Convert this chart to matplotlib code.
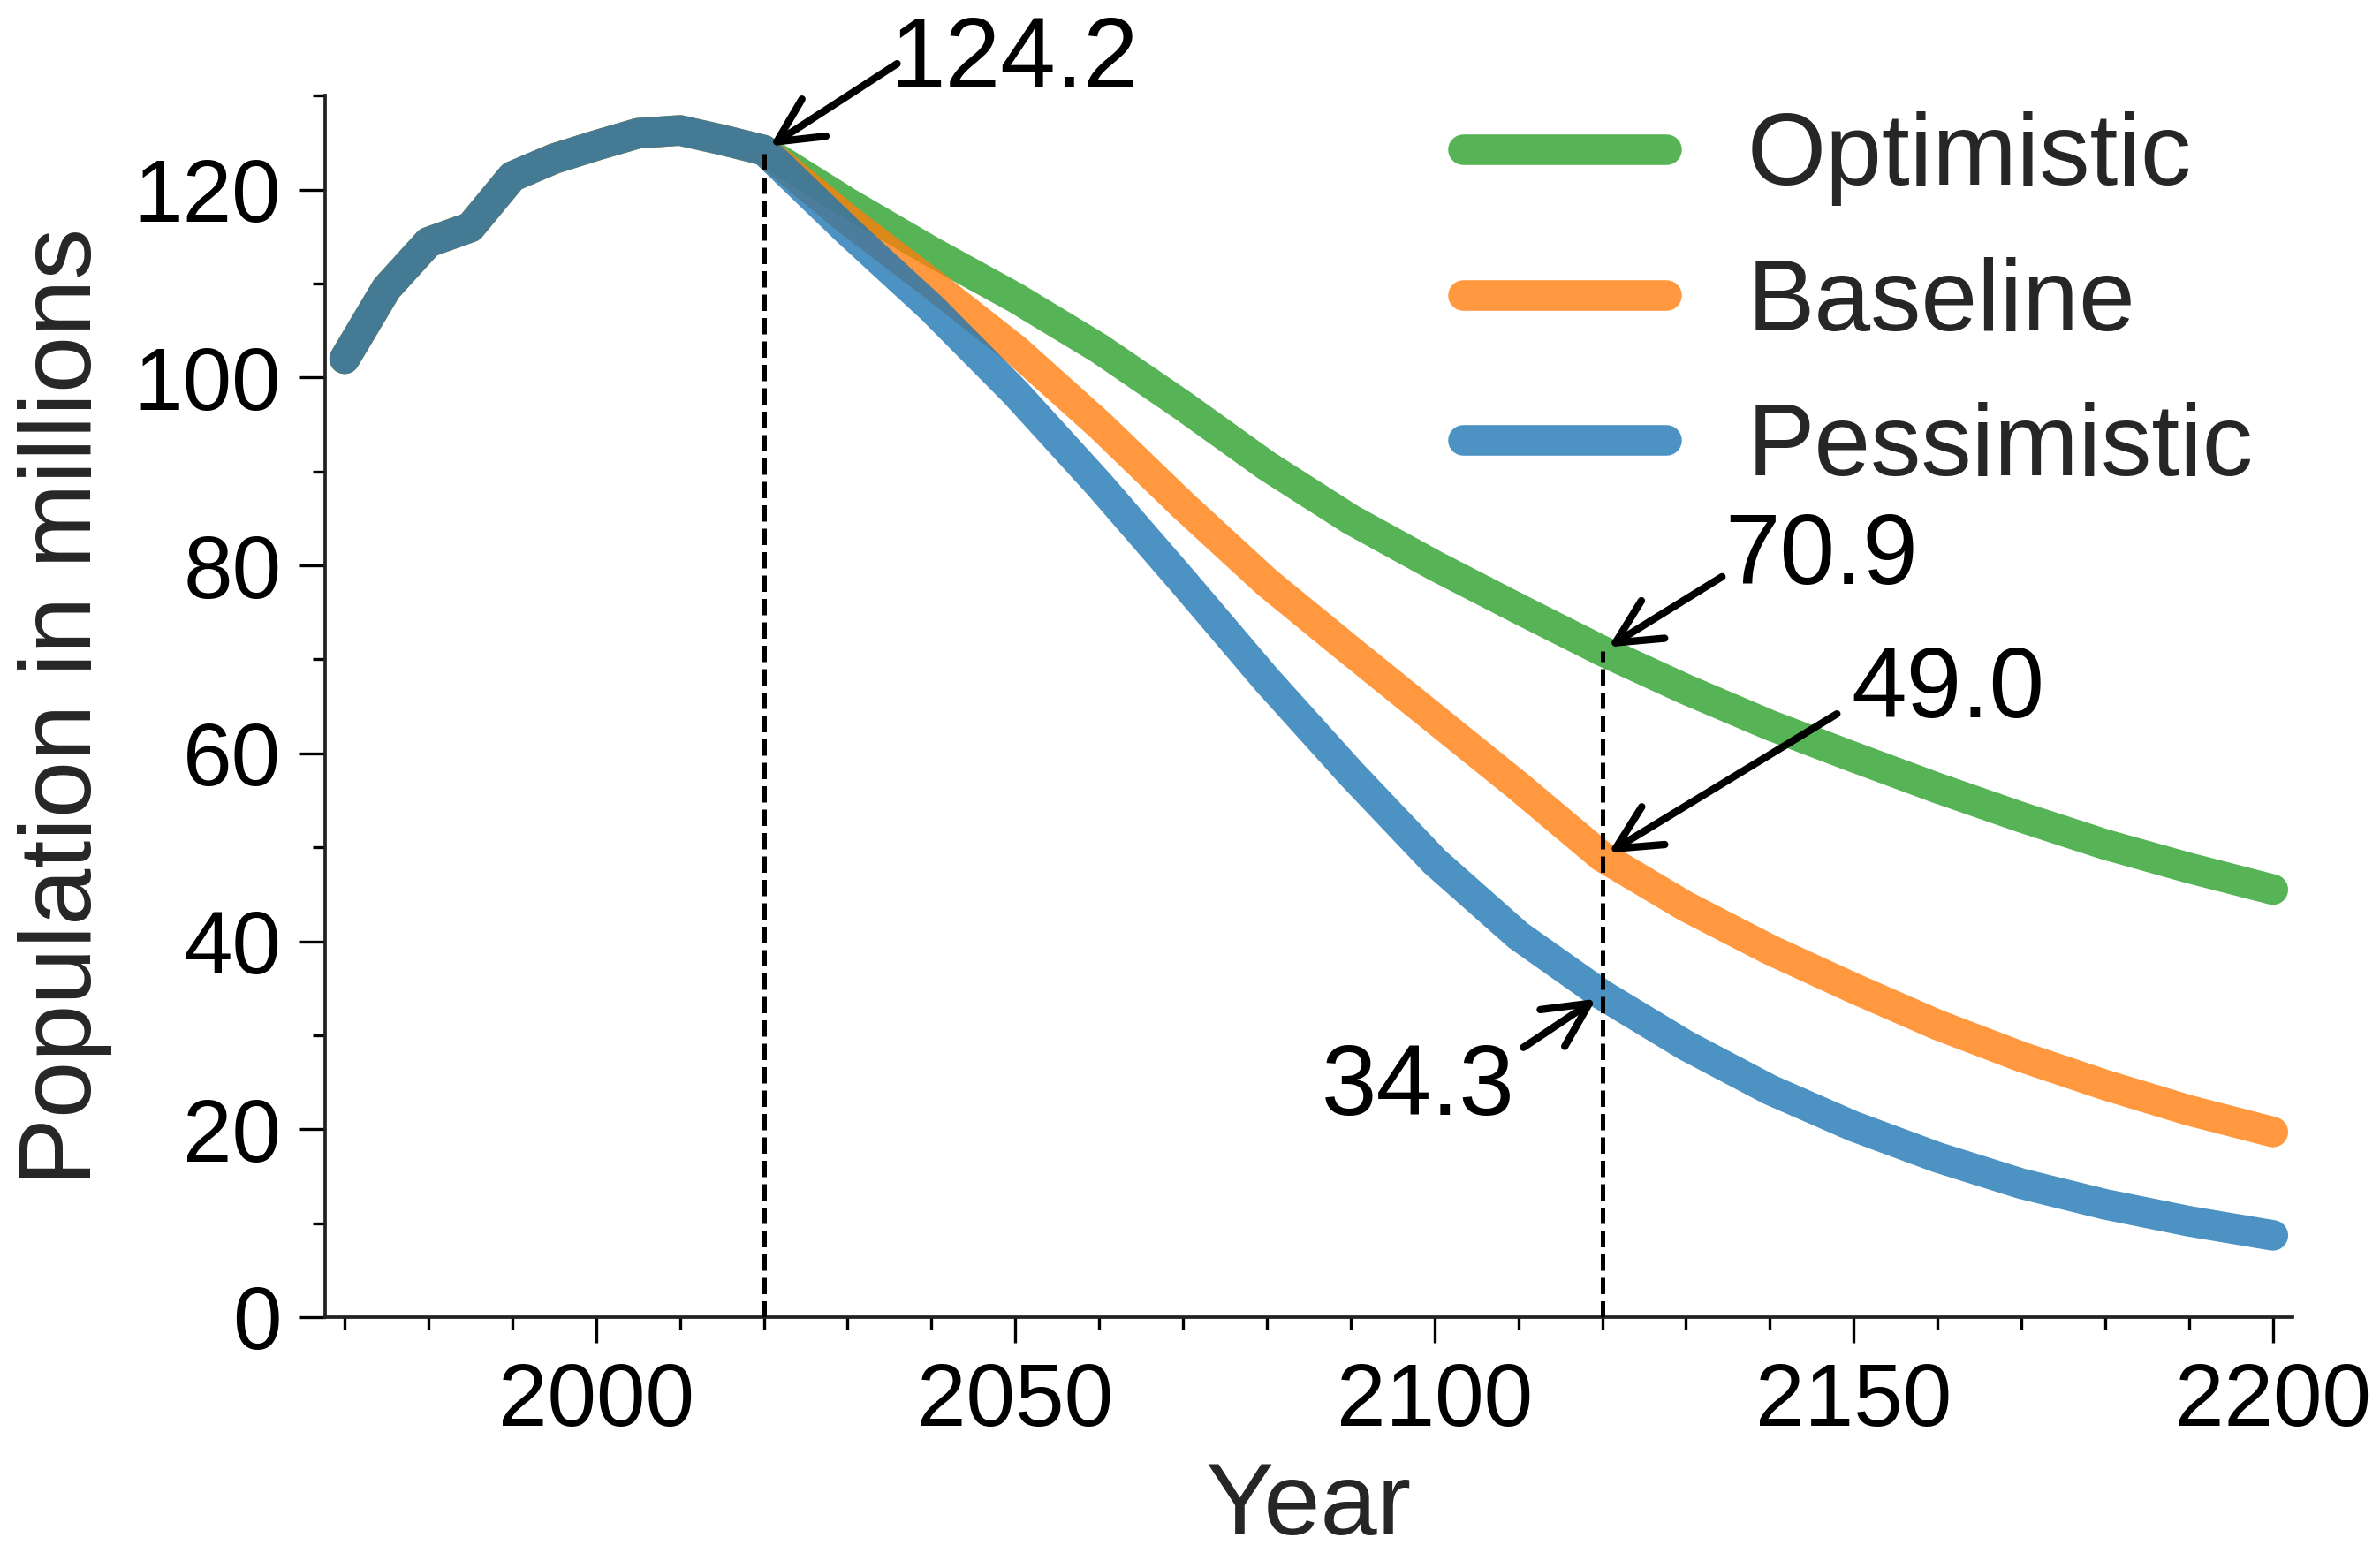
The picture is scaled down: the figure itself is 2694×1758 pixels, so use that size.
import matplotlib
matplotlib.use("Agg")
import matplotlib.pyplot as plt
from matplotlib.ticker import MultipleLocator

# ---------------- data ----------------
hist_years = [1970, 1975, 1980, 1985, 1990, 1995, 2000, 2005, 2010, 2015, 2020]
hist_pop = [102.0, 109.5, 114.4, 116.0, 121.4, 123.3, 124.7, 126.0, 126.3, 125.3, 124.2]

proj_years = [2020, 2030, 2040, 2050, 2060, 2070, 2080, 2090, 2100, 2110,
              2120, 2130, 2140, 2150, 2160, 2170, 2180, 2190, 2200]
optimistic = [124.2, 118.6, 113.4, 108.5, 103.1, 97.0, 90.6, 84.9, 80.0, 75.4,
              70.9, 66.8, 63.0, 59.6, 56.3, 53.2, 50.3, 47.8, 45.5]
baseline = [124.2, 116.8, 110.0, 103.0, 95.0, 86.4, 78.2, 70.9, 63.7, 56.5,
            49.0, 43.7, 39.1, 35.0, 31.1, 27.7, 24.7, 22.0, 19.7]
pessimistic = [124.2, 115.6, 107.4, 98.4, 88.6, 78.3, 67.8, 57.9, 48.5, 40.6,
               34.3, 28.9, 24.2, 20.3, 17.0, 14.2, 12.0, 10.2, 8.7]

scenario_names = ["Optimistic", "Baseline", "Pessimistic"]
scenario_colors = ["tab:green", "tab:orange", "tab:blue"]

ann_years = [2020, 2120, 2120, 2120]
ann_values = [124.2, 70.9, 49.0, 34.3]
# text anchor (left, baseline) and arrow tail positions in data coords
ann_text_pos = [(2035.0, 130.9), (2134.6, 78.0), (2149.7, 63.85), (2086.5, 21.5)]
ann_tail_pos = [(2035.9, 133.4), (2134.3, 78.8), (2148.0, 64.2), (2110.6, 28.7)]
vline_years = [2020, 2120]
vline_tops = [124.2, 70.9]

# ---------------- style ----------------
plt.rcParams["font.family"] = ["Liberation Sans", "DejaVu Sans"]
label_color = "#262626"

fig = plt.figure(figsize=(2694 / 300, 1758 / 300), dpi=300)
ax = fig.add_axes([0.1367, 0.1519, 0.8264, 0.7865])

for name, vals, col in zip(scenario_names,
                           [optimistic, baseline, pessimistic],
                           scenario_colors):
    ax.plot(hist_years + proj_years[1:], hist_pop + vals[1:],
            color=col, alpha=0.8, lw=8.3, solid_capstyle="round",
            label=name, zorder=2)

for yr, top in zip(vline_years, vline_tops):
    ax.plot([yr, yr], [0, top], color="black", ls="--", lw=1.2, zorder=3)

for yr, val, tpos, tail in zip(ann_years, ann_values, ann_text_pos, ann_tail_pos):
    ax.text(tpos[0], tpos[1], f"{val:.1f}", fontsize=27, color="black",
            ha="left", va="baseline", zorder=5)
    ax.annotate("", xy=(yr, val), xytext=tail,
                arrowprops=dict(arrowstyle="->", lw=2.0, color="black",
                                shrinkA=0, shrinkB=2, mutation_scale=30),
                zorder=5)

ax.set_xlim(1967.7, 2202.3)
ax.set_ylim(0, 130)
ax.xaxis.set_major_locator(MultipleLocator(50))
ax.xaxis.set_minor_locator(MultipleLocator(10))
ax.yaxis.set_major_locator(MultipleLocator(20))
ax.yaxis.set_minor_locator(MultipleLocator(10))

for s in ["top", "right"]:
    ax.spines[s].set_visible(False)
for s in ["left", "bottom"]:
    ax.spines[s].set_color("#222222")
    ax.spines[s].set_linewidth(0.9)

ax.tick_params(which="major", length=7, width=0.8, labelsize=24, pad=5,
               color="black", labelcolor="black")
ax.tick_params(which="minor", length=3.3, width=0.8, color="black")

ax.set_xlabel("Year", fontsize=27.7, color=label_color, labelpad=4.5)
ax.set_ylabel("Population in millions", fontsize=27.7, color=label_color, labelpad=6.0)

leg = ax.legend(loc="upper left", bbox_to_anchor=(0.558, 1.020), frameon=False,
                fontsize=27.5, borderaxespad=0, handlelength=2.0)
for t in leg.get_texts():
    t.set_color(label_color)

fig.savefig("out.png", dpi=300)
